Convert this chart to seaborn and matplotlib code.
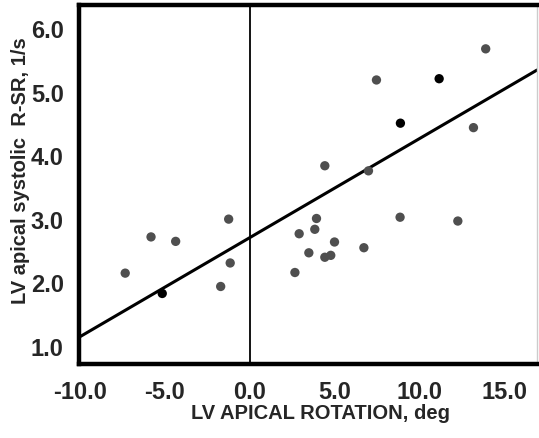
import matplotlib
matplotlib.use("Agg")
import matplotlib.pyplot as plt
import seaborn as sns
import pandas as pd
import numpy as np

# Data
rotation = [13.88, 7.45, 11.14, 8.86, 13.16, 4.41, 6.98, 3.92, 3.82, 2.90,
            8.84, 12.24, 4.98, 3.47, 4.41, 4.76, 6.71, 2.65, -1.25, -5.82,
            -4.37, -7.34, -1.16, -1.72, -5.16]
strain_rate = [5.69, 5.20, 5.22, 4.52, 4.45, 3.85, 3.77, 3.02, 2.85, 2.78,
               3.04, 2.98, 2.65, 2.48, 2.41, 2.44, 2.56, 2.17, 3.01, 2.73,
               2.66, 2.16, 2.32, 1.95, 1.84]
group = ["gray", "gray", "black", "black", "gray", "gray", "gray", "gray", "gray", "gray",
         "gray", "gray", "gray", "gray", "gray", "gray", "gray", "gray", "gray", "gray",
         "gray", "gray", "gray", "gray", "black"]
fit_intercept = 2.72
fit_slope = 0.156
x_ticks = [-10.0, -5.0, 0.0, 5.0, 10.0, 15.0]
y_ticks = [1.0, 2.0, 3.0, 4.0, 5.0, 6.0]

df = pd.DataFrame({"rot": rotation, "sr": strain_rate, "grp": group})

sns.set_style("white")
plt.rcParams["font.family"] = ["Liberation Sans", "DejaVu Sans"]

fig = plt.figure(figsize=(5.39, 4.38), dpi=100)
ax = fig.add_axes([79 / 539, 1 - 364 / 438, (537 - 79) / 539, (364 - 5) / 438])

xlim = (-10.06, 16.9)
ylim = (0.73, 6.38)

# regression line
fx = np.array(xlim)
fit_df = pd.DataFrame({"x": fx, "y": fit_intercept + fit_slope * fx})
sns.lineplot(data=fit_df, x="x", y="y", color="black", linewidth=2.2, ax=ax, zorder=2)

ax.axvline(0, color="black", linewidth=1.3, zorder=1)

sns.scatterplot(data=df, x="rot", y="sr", hue="grp",
                palette={"gray": "#4f4f4f", "black": "#000000"},
                s=45, edgecolor="none", legend=False, ax=ax, zorder=3)

ax.set_xlim(*xlim)
ax.set_ylim(*ylim)
ax.set_xticks(x_ticks)
ax.set_yticks(y_ticks)
ax.set_xticklabels([f"{v:.1f}" for v in x_ticks])
ax.set_yticklabels([f"{v:.1f}" for v in y_ticks])
ax.tick_params(axis="x", length=0, labelsize=17, pad=12)
ax.tick_params(axis="y", length=0, labelsize=17, pad=11)
for lab in ax.get_xticklabels() + ax.get_yticklabels():
    lab.set_fontweight("bold")

ax.set_xlabel("LV APICAL ROTATION, deg", fontsize=14.5, fontweight="bold")
ax.set_ylabel("LV apical systolic  R-SR, 1/s", fontsize=14.5, fontweight="bold")
ax.xaxis.set_label_coords(0.527, -0.112)
ax.yaxis.set_label_coords(-0.107, 0.54)

for side in ["left", "bottom", "top"]:
    ax.spines[side].set_linewidth(3.2)
    ax.spines[side].set_color("black")
ax.spines["right"].set_linewidth(1.0)
ax.spines["right"].set_color("#cccccc")

fig.savefig("out.png", dpi=100)
